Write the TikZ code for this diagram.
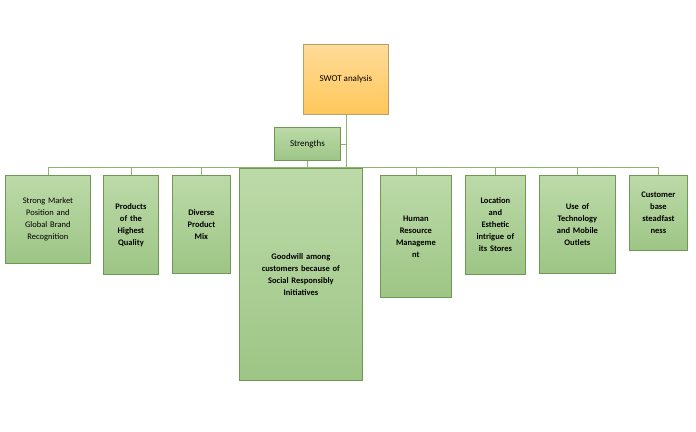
\documentclass[tikz,border=0pt]{standalone}
\usepackage{fontspec}
\setmainfont{Carlito}
\usepackage{tikz}
\usetikzlibrary{positioning}

\definecolor{boxtop}{HTML}{BCDAA8}
\definecolor{boxbot}{HTML}{9DC585}
\definecolor{boxline}{HTML}{6F9856}
\definecolor{linkline}{HTML}{8DB46F}
\definecolor{swottop}{HTML}{FFDB98}
\definecolor{swotbot}{HTML}{FFC75A}
\definecolor{swotline}{HTML}{B8A06A}

\tikzset{
  leaf/.style={draw=boxline, line width=0.8pt, top color=boxtop, bottom color=boxbot,
    anchor=north west, align=center, inner sep=1pt, font=\fontsize{8.5}{12}\selectfont},
  link/.style={draw=linkline, line width=0.8pt}
}

\begin{document}
\begin{tikzpicture}[x=1pt, y=-1pt]
	\useasboundingbox (0,0) rectangle (696,431);

		% root and first level
		\node [draw=swotline, line width=0.8pt, top color=swottop, bottom color=swotbot,
		 anchor=north west, minimum width=85pt, minimum height=70pt,
		 font=\fontsize{9}{11}\selectfont] (swot) at (303,44) {SWOT analysis};
		\node [leaf, minimum width=66pt, minimum height=33pt,
		 font=\fontsize{9}{11}\selectfont] (str) at (274,127) {Strengths};

		\coordinate (bend) at (346,167);
		\draw [link] (swot.south -| bend) -- (bend);
		\draw [link] (str.east) -- (str.east -| bend);
		\draw [link] (str.south) -- (str.south |- bend);

		% strengths
		\node [leaf, minimum width=85pt, minimum height=88pt,
		 text width=83pt] (s1) at (5,175)
		 {Strong Market\\Position and\\Global Brand\\Recognition};
		\node [leaf, minimum width=55pt, minimum height=99pt, text width=53pt,
		 font=\fontsize{8.5}{12}\selectfont\bfseries] (s2) at (103,175)
		 {Products\\of the\\Highest\\Quality};
		\node [leaf, minimum width=58pt, minimum height=98pt, text width=56pt,
		 font=\fontsize{8.5}{12}\selectfont\bfseries] (s3) at (172,175)
		 {Diverse\\Product\\Mix};
		\node [leaf, minimum width=123pt, minimum height=212pt, text width=121pt,
		 font=\fontsize{8.5}{12}\selectfont\bfseries] (s4) at (239,168)
		 {Goodwill among\\customers because of\\Social Responsibly\\Initiatives};
		\node [leaf, minimum width=71pt, minimum height=122pt, text width=69pt,
		 font=\fontsize{8.5}{12}\selectfont\bfseries] (s5) at (380,175)
		 {Human\\Resource\\Manageme\\nt};
		\node [leaf, minimum width=60pt, minimum height=99pt, text width=58pt,
		 font=\fontsize{8.5}{12}\selectfont\bfseries] (s6) at (465,175)
		 {Location\\and\\Esthetic\\intrigue of\\its Stores};
		\node [leaf, minimum width=76pt, minimum height=98pt, text width=74pt,
		 font=\fontsize{8.5}{12}\selectfont\bfseries] (s7) at (539,175)
		 {Use of\\Technology\\and Mobile\\Outlets};
		\node [leaf, minimum width=58pt, minimum height=75pt, text width=56pt,
		 font=\fontsize{8.5}{12}\selectfont\bfseries] (s8) at (629,175)
		 {Customer\\base\\steadfast\\ness};

		\draw [link] (s1.north |- bend) -- (s8.north |- bend);
		\foreach \s in {s1,s2,s3,s5,s6,s7,s8}
		 \draw [link] (\s.north |- bend) -- (\s.north);

	\end{tikzpicture}
\end{document}
